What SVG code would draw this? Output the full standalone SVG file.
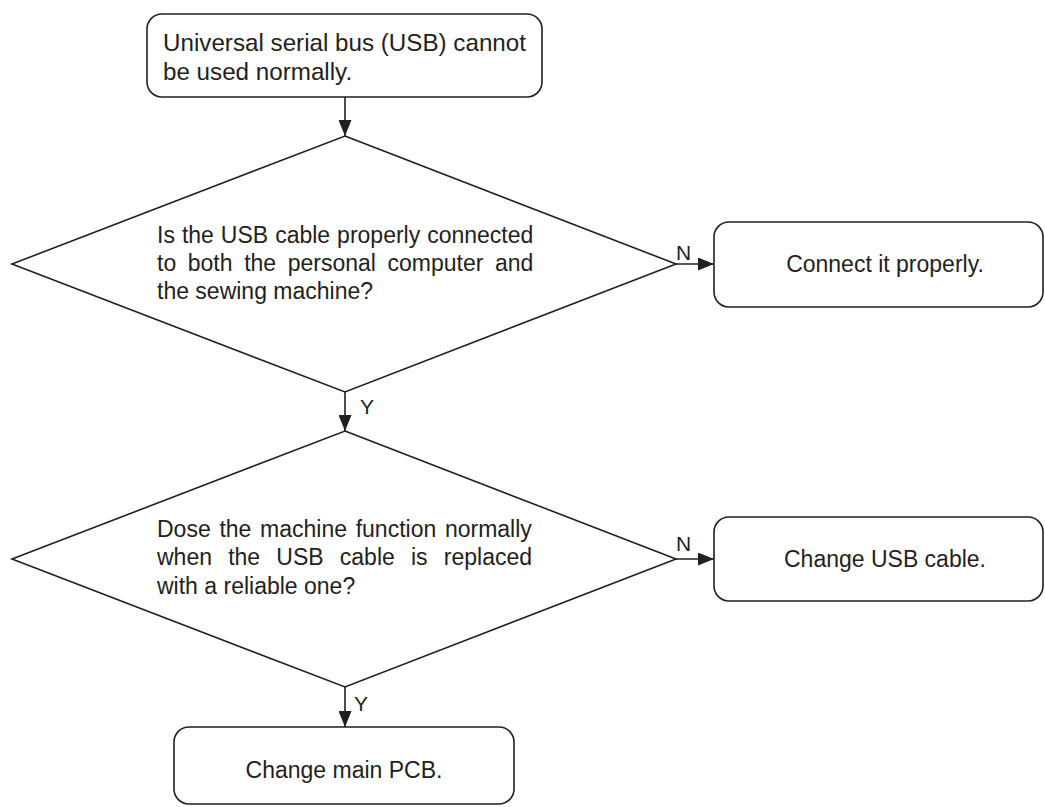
<svg xmlns="http://www.w3.org/2000/svg" width="1045" height="807" viewBox="0 0 1045 807">
<style>
.shape{fill:#fff;stroke:#231f20;stroke-width:1.6}
.t{font-family:"Liberation Sans",Arial,sans-serif;font-size:23px;fill:#231f20}
.lbl{font-family:"Liberation Sans",Arial,sans-serif;font-size:21px;fill:#231f20}
.c{fill:none;stroke:#231f20;stroke-width:1.6}
</style>
<defs>
<marker id="arr" markerWidth="16" markerHeight="13" refX="16" refY="6.5" orient="auto" markerUnits="userSpaceOnUse">
<path d="M0,0 L16,6.5 L0,13 Z" fill="#231f20"/>
</marker>
</defs>
<rect width="1045" height="807" fill="#fff"/>
<g id="connectors">
<line class="c" x1="345" y1="97" x2="345" y2="136" marker-end="url(#arr)"/>
<line class="c" x1="676" y1="264" x2="714" y2="264" marker-end="url(#arr)"/>
<line class="c" x1="345" y1="392" x2="345" y2="431" marker-end="url(#arr)"/>
<line class="c" x1="676" y1="559" x2="714" y2="559" marker-end="url(#arr)"/>
<line class="c" x1="345" y1="687" x2="345" y2="727" marker-end="url(#arr)"/>
<text class="lbl" x="676" y="260">N</text>
<text class="lbl" x="360" y="414">Y</text>
<text class="lbl" x="676" y="551">N</text>
<text class="lbl" x="354" y="711">Y</text>
</g>
<g id="start">
<rect class="shape" x="147" y="14" width="395" height="83" rx="15"/>
<text class="t" x="163" y="51" style="font-size:24.2px">Universal serial bus (USB) cannot</text>
<text class="t" x="163" y="80" style="font-size:24.2px">be used normally.</text>
</g>
<g id="q1">
<polygon class="shape" points="345,136 676,264 345,392 12,264"/>
<text class="t" x="157" y="243" word-spacing="0.6">Is the USB cable properly connected</text>
<text class="t" x="157" y="271" word-spacing="5.2">to both the personal computer and</text>
<text class="t" x="157" y="299">the sewing machine?</text>
</g>
<g id="a1">
<rect class="shape" x="714" y="222" width="329" height="85" rx="15"/>
<text class="t" x="885" y="272" text-anchor="middle">Connect it properly.</text>
</g>
<g id="q2">
<polygon class="shape" points="345,431 676,559 345,687 12,559"/>
<text class="t" x="157" y="537" word-spacing="2.3">Dose the machine function normally</text>
<text class="t" x="157" y="565" word-spacing="9.8">when the USB cable is replaced</text>
<text class="t" x="157" y="594">with a reliable one?</text>
</g>
<g id="a2">
<rect class="shape" x="714" y="517" width="329" height="84" rx="15"/>
<text class="t" x="885" y="567" text-anchor="middle">Change USB cable.</text>
</g>
<g id="end">
<rect class="shape" x="174" y="727" width="340" height="77" rx="15"/>
<text class="t" x="344" y="778" text-anchor="middle">Change main PCB.</text>
</g>
</svg>
